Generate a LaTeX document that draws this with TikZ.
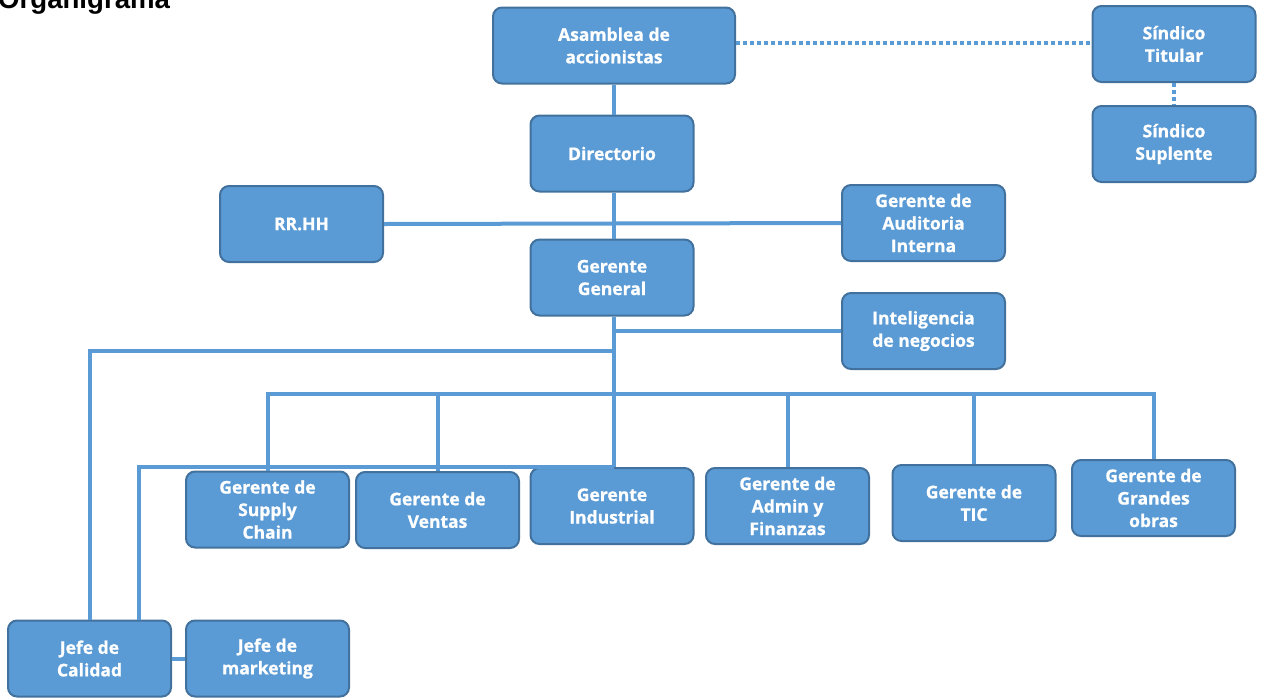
\documentclass[tikz,border=0pt]{standalone}
\usepackage{fontspec}
\setmainfont{Open Sans}[BoldFeatures={FakeBold=0.8}]
\newfontfamily\titlefont{Liberation Sans}
\definecolor{boxblue}{HTML}{5B9BD5}
\definecolor{boxedge}{HTML}{41719C}
\definecolor{lineblue}{HTML}{5B9BD5}
\begin{document}
\begin{tikzpicture}[x=1pt,y=-1pt,
  orgbox/.style={rectangle, rounded corners=9pt, fill=boxblue, draw=boxedge, line width=2pt,
    minimum width=163pt, minimum height=76pt, text=white, align=center,
    font=\fontsize{17.5}{22.5}\selectfont\bfseries, inner sep=2pt},
  link/.style={draw=lineblue, line width=4pt},
  dotlink/.style={draw=lineblue, line width=4pt, dash pattern=on 4pt off 3pt}]
\useasboundingbox (0,0) rectangle (1261,697);
\node[anchor=base west, font=\titlefont\fontsize{27.6}{30}\selectfont\bfseries, inner sep=0pt] (title) at (-2,8) {Organigrama};

\node[orgbox, minimum width=242pt] (asam) at (614,45.5) {Asamblea de\\accionistas};
\node[orgbox] (tit) at (1174,44) {Síndico\\Titular};
\node[orgbox] (sup) at (1174,144) {Síndico\\Suplente};
\node[orgbox] (dir) at (612,153.5) {Directorio};
\node[orgbox] (rrhh) at (301.5,224) {RR.HH};
\node[orgbox] (aud) at (923.5,223) {Gerente de\\Auditoria\\Interna};
\node[orgbox] (gg) at (612,277.5) {Gerente\\General};
\node[orgbox] (intel) at (923.5,331) {Inteligencia\\de negocios};
\node[orgbox] (sc) at (267.5,509.5) {Gerente de\\Supply\\Chain};
\node[orgbox] (ven) at (437.5,510) {Gerente de\\Ventas};
\node[orgbox] (ind) at (612,506) {Gerente\\Industrial};
\node[orgbox] (adm) at (787.5,506) {Gerente de\\Admin y\\Finanzas};
\node[orgbox] (tic) at (974,503) {Gerente de\\TIC};
\node[orgbox] (go) at (1153.5,498) {Gerente de\\Grandes\\obras};
\node[orgbox] (cal) at (89.5,658.5) {Jefe de\\Calidad};
\node[orgbox] (mkt) at (267.5,658.5) {Jefe de\\marketing};

\coordinate (bus) at (614,394);
\coordinate (qline) at (614,351);
\coordinate (mline) at (139,467);

\draw[link] (asam.south -| 614,0) -- (dir.north -| 614,0);
\draw[dotlink] (asam.east |- 0,43) -- (tit.west |- 0,43);
\draw[dotlink] (tit.south) -- (sup.north);
\draw[link] (dir.south -| 614,0) -- (gg.north -| 614,0);
\draw[link] (rrhh.east) -- (aud.west);
\draw[link] (gg.south -| 614,0) -- (ind.north -| 614,0);
\draw[link] (gg.south -| 614,0) |- (intel.west);
\draw[link] (qline) -| (cal.north);
\draw[link] (sc.north) -- (sc.north |- bus) -- (go.north |- bus) -- (go.north);
\draw[link] (ven.north |- bus) -- (ven.north);
\draw[link] (adm.north |- bus) -- (adm.north);
\draw[link] (tic.north |- bus) -- (tic.north);
\draw[link] (ind.north -| 614,0) -- (mline) -- (mline |- cal.north);
\draw[link] (cal.east) -- (mkt.west);
\end{tikzpicture}
\end{document}
